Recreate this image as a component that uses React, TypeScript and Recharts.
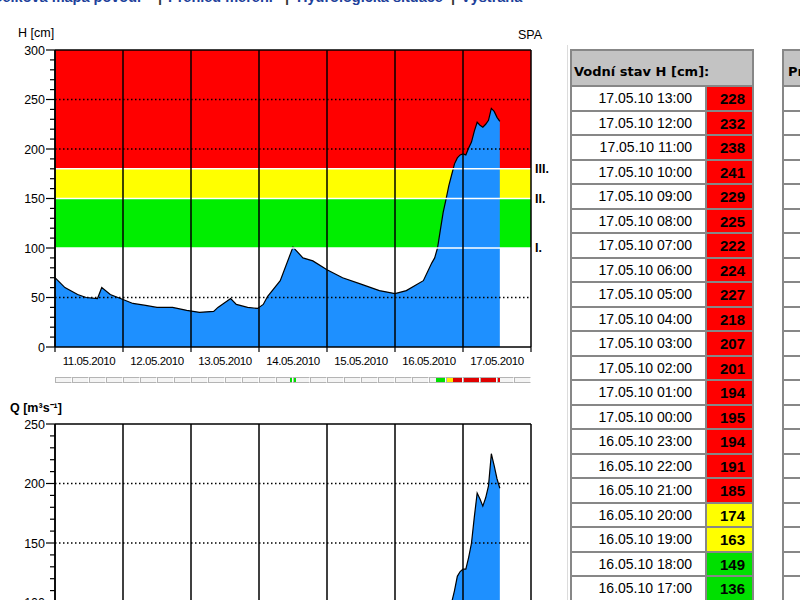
import React from 'react';
import { ComposedChart, Area, XAxis, YAxis, ReferenceArea, ReferenceLine } from 'recharts';

// hours counted from 11.05.2010 00:00
const hHours = [0, 3.5, 8, 11, 15, 16.5, 19.5, 24, 27.5, 32, 36, 41.5, 46.5, 51, 56, 57.5, 62, 64, 68, 71.5, 73.5, 75, 79.5, 84, 87.5, 91, 96, 101.5, 107.5, 114.5, 120, 124, 130, 133, 134, 135, 136,
  137, 138, 139, 140, 141, 142, 143, 144, 145, 146, 147, 148, 149, 150, 151, 152, 153, 154, 155, 156, 157];
const hValues = [70, 60, 53, 50, 49, 60, 53, 48, 44, 42, 40, 40, 37, 35, 36, 40, 49, 43, 40, 39, 43, 51, 67, 101, 90, 87, 78, 70, 64, 57, 54, 57, 67, 85, 90, 100, 118,
  136, 149, 163, 174, 185, 191, 194, 195, 194, 201, 207, 218, 227, 224, 222, 225, 229, 241, 238, 232, 228];

const qHours = [0, 24, 48, 72, 84, 96, 120, 130, 136,
  137, 138, 139, 140, 141, 142, 143, 144, 145, 146, 147, 148, 149, 150, 151, 152, 153, 154, 155, 156, 157];
const qValues = [14, 10, 8, 7, 30, 20, 12, 20, 52,
  60, 72, 84, 100, 110, 122, 126, 128, 128, 138, 150, 172, 192, 187, 181, 188, 198, 225, 215, 204, 196];

const dayLabels = ['11.05.2010', '12.05.2010', '13.05.2010', '14.05.2010', '15.05.2010', '16.05.2010', '17.05.2010'];
const dayBounds = [0, 24, 48, 72, 96, 120, 144, 168];
const xTicks = [0, 12, 24, 36, 48, 60, 72, 84, 96, 108, 120, 132, 144, 156, 168];

const levels = [100, 150, 180];
const levelNames = ['I.', 'II.', 'III.'];

// status strip under the H chart: [from hour, to hour, colour]
const stageSpans: [number, number, string][] = [
  [83, 85, '#00e000'],
  [134.5, 138, '#00e000'],
  [138, 140.5, '#ffee00'],
  [140.5, 157, '#e00000'],
];

const RED = '#ff0000';
const YELLOW = '#ffff00';
const GREEN = '#00ee00';
const BLUE = '#1e90ff';
const SANS = 'Arial, "Liberation Sans", sans-serif';

const hData = hHours.map((t, i) => ({ t, h: hValues[i] }));
const qData = qHours.map((t, i) => ({ t, q: qValues[i] }));

const hTicks = Array.from({ length: 31 }, (_, i) => i * 10);
const qTicks = Array.from({ length: 26 }, (_, i) => i * 10);

const PLOT_LEFT = 55;
const PLOT_W = 476;

function YTick(props: any) {
  const { x, y, payload } = props;
  const v = payload.value;
  const major = v % 50 === 0;
  return (
    <g>
      <line x1={x - (major ? 9 : 5)} x2={x} y1={y} y2={y} stroke="#000" strokeWidth={1.2} />
      {major && (
        <text x={x - 10} y={y} dy={4.5} textAnchor="end" fontSize={12.5} fontFamily={SANS} fill="#000">{v}</text>
      )}
    </g>
  );
}

function XTick(props: any) {
  const { x, y, payload } = props;
  const v = payload.value;
  if (v % 24 === 0) return <line x1={x} x2={x} y1={y} y2={y + 5} stroke="#000" strokeWidth={1.2} />;
  return (
    <text x={x} y={y + 18} textAnchor="middle" fontSize={11.5} letterSpacing={-0.4} fontFamily={SANS} fill="#000">
      {dayLabels[Math.floor(v / 24)]}
    </text>
  );
}

function dayLines() {
  return dayBounds.map((d) => (
    <ReferenceLine key={'d' + d} x={d} stroke="#000" strokeWidth={1.5} zIndex={150} />
  ));
}

function dotted(vals: number[]) {
  return vals.map((v) => (
    <ReferenceLine key={'g' + v} y={v} stroke="#000" strokeDasharray="1.5 2.5" strokeWidth={1.3} zIndex={150} />
  ));
}

function HChart() {
  return (
    <ComposedChart width={570} height={380} data={hData} margin={{ top: 50, right: 39, bottom: 8, left: 0 }}>
      <XAxis dataKey="t" type="number" domain={[0, 168]} ticks={xTicks} interval={0} tick={<XTick />}
        tickSize={0} tickMargin={0} tickLine={false} axisLine={{ stroke: '#000', strokeWidth: 1.5 }} height={25} />
      <YAxis type="number" domain={[0, 300]} ticks={hTicks} interval={0} tick={<YTick />}
        tickSize={0} tickMargin={0} tickLine={false} axisLine={{ stroke: '#000', strokeWidth: 1.5 }} width={55} />
      <ReferenceArea y1={180} y2={300} fill={RED} fillOpacity={1} stroke="none" zIndex={-50} />
      <ReferenceArea y1={150} y2={180} fill={YELLOW} fillOpacity={1} stroke="none" zIndex={-50} />
      <ReferenceArea y1={100} y2={150} fill={GREEN} fillOpacity={1} stroke="none" zIndex={-50} />
      <Area type="linear" dataKey="h" fill={BLUE} fillOpacity={1} stroke="#000" strokeWidth={1.2}
        dot={false} activeDot={false} isAnimationActive={false} />
      {levels.map((l, i) => (
        <ReferenceLine key={'l' + l} y={l} stroke="#fff" strokeWidth={1.5} zIndex={150}
          label={{ value: levelNames[i], position: 'right', fill: '#000', fontSize: 12.5, fontWeight: 'bold', fontFamily: SANS, offset: 4 }} />
      ))}
      {dotted([50, 200, 250])}
      <ReferenceLine y={300} stroke="#000" strokeWidth={1.5} zIndex={150} />
      {dayLines()}
    </ComposedChart>
  );
}

function QChart() {
  return (
    <ComposedChart width={570} height={375} data={qData} margin={{ top: 44, right: 39, bottom: 8.5, left: 0 }}>
      <XAxis dataKey="t" type="number" domain={[0, 168]} ticks={xTicks} interval={0} tick={<XTick />}
        tickSize={0} tickMargin={0} tickLine={false} axisLine={{ stroke: '#000', strokeWidth: 1.5 }} height={25} />
      <YAxis type="number" domain={[0, 250]} ticks={qTicks} interval={0} tick={<YTick />}
        tickSize={0} tickMargin={0} tickLine={false} axisLine={{ stroke: '#000', strokeWidth: 1.5 }} width={55} />
      <Area type="linear" dataKey="q" fill={BLUE} fillOpacity={1} stroke="#000" strokeWidth={1.2}
        dot={false} activeDot={false} isAnimationActive={false} />
      {dotted([50, 100, 150, 200])}
      <ReferenceLine y={250} stroke="#000" strokeWidth={1.5} zIndex={150} />
      {dayLines()}
    </ComposedChart>
  );
}

function StageStrip() {
  const pxh = PLOT_W / 168;
  const boxes = Array.from({ length: 28 }, (_, i) => i);
  return (
    <div style={{ position: 'absolute', left: PLOT_LEFT, top: 377, width: PLOT_W, height: 6, background: '#f4f4f4' }}>
      {stageSpans.map(([a, b, c], i) => (
        <div key={'s' + i} style={{ position: 'absolute', left: a * pxh, width: (b - a) * pxh, top: 1, height: 4, background: c }} />
      ))}
      {boxes.map((i) => (
        <div key={i} style={{ position: 'absolute', left: i * 17, width: 17, top: 0, height: 6, boxSizing: 'border-box', border: '1px solid #b4b4b4', borderRightColor: '#fff', borderLeftColor: '#b4b4b4' }} />
      ))}
    </div>
  );
}

function pad(n: number) {
  return n < 10 ? '0' + n : '' + n;
}

function levelColor(v: number) {
  if (v >= 180) return RED;
  if (v >= 150) return YELLOW;
  if (v >= 100) return '#00e000';
  return '#fff';
}

const tableRows = hHours
  .map((t, i) => ({ t, v: hValues[i] }))
  .filter((r) => r.t >= 137)
  .reverse()
  .map((r) => ({ label: `${pad(11 + Math.floor(r.t / 24))}.05.10 ${pad(r.t % 24)}:00`, v: r.v }));

function LevelTable() {
  return (
    <div style={{ position: 'absolute', left: 570, top: 49, width: 184, background: '#878787', padding: 2, boxSizing: 'border-box', height: 600 }}>
      <div style={{ height: 34, background: '#c3c3c3', fontFamily: '"DejaVu Sans", Verdana, sans-serif', fontWeight: 'bold', fontSize: 13, lineHeight: '42px', paddingLeft: 2, color: '#000' }}>
        Vodní stav H [cm]:
      </div>
      {tableRows.map((r, i) => (
        <div key={i} style={{ display: 'flex', marginTop: 2, height: 22.5 }}>
          <div style={{ width: 133, background: '#fff', fontFamily: SANS, fontSize: 14, lineHeight: '23px', textAlign: 'right', paddingRight: 13, boxSizing: 'border-box', color: '#000' }}>{r.label}</div>
          <div style={{ width: 45, marginLeft: 2, background: levelColor(r.v), fontFamily: SANS, fontWeight: 'bold', fontSize: 15, lineHeight: '23px', textAlign: 'right', paddingRight: 7, boxSizing: 'border-box', color: '#000' }}>{r.v}</div>
        </div>
      ))}
    </div>
  );
}

function FlowTable() {
  return (
    <div style={{ position: 'absolute', left: 782, top: 49, width: 184, background: '#878787', padding: 2, boxSizing: 'border-box', height: 600 }}>
      <div style={{ height: 34, background: '#c3c3c3', fontFamily: '"DejaVu Sans", Verdana, sans-serif', fontWeight: 'bold', fontSize: 13, lineHeight: '42px', paddingLeft: 4, color: '#000', whiteSpace: 'nowrap' }}>
        Průtok Q [m³s⁻¹]:
      </div>
      {tableRows.map((r, i) => (
        <div key={i} style={{ display: 'flex', marginTop: 2, height: 22.5 }}>
          <div style={{ width: 133, background: '#fff' }} />
          <div style={{ width: 45, marginLeft: 2, background: '#fff' }} />
        </div>
      ))}
    </div>
  );
}

const navItems: [string, number][] = [
  ['Celková mapa povodí', -8],
  ['|', 158],
  ['Přehled měření', 168],
  ['|', 285],
  ['Hydrologická situace', 297],
  ['|', 451],
  ['Výstraha', 461],
];

export default function App() {
  return (
    <div style={{ position: 'fixed', left: 0, top: 0, width: 800, height: 600, overflow: 'hidden', background: '#fff', fontFamily: SANS }}>
      {navItems.map(([s, x], i) => (
        <div key={i} style={{ position: 'absolute', left: x, top: -10, fontSize: 14.5, lineHeight: '14px', fontWeight: 'bold', color: s === '|' ? '#333' : '#20409a', whiteSpace: 'nowrap' }}>{s}</div>
      ))}
      <div style={{ position: 'absolute', left: 567, top: 45, width: 1, height: 560, background: '#dcdcdc' }} />
      <div style={{ position: 'absolute', left: 18, top: 26, fontSize: 12.5 }}>H [cm]</div>
      <div style={{ position: 'absolute', left: 518, top: 28, fontSize: 12.5 }}>SPA</div>
      <div style={{ position: 'absolute', left: 0, top: 0 }}>
        <HChart />
      </div>
      <StageStrip />
      <div style={{ position: 'absolute', left: 10, top: 399, fontSize: 12.5, fontWeight: 'bold' }}>Q [m³s⁻¹]</div>
      <div style={{ position: 'absolute', left: 0, top: 380 }}>
        <QChart />
      </div>
      <LevelTable />
      <FlowTable />
    </div>
  );
}
